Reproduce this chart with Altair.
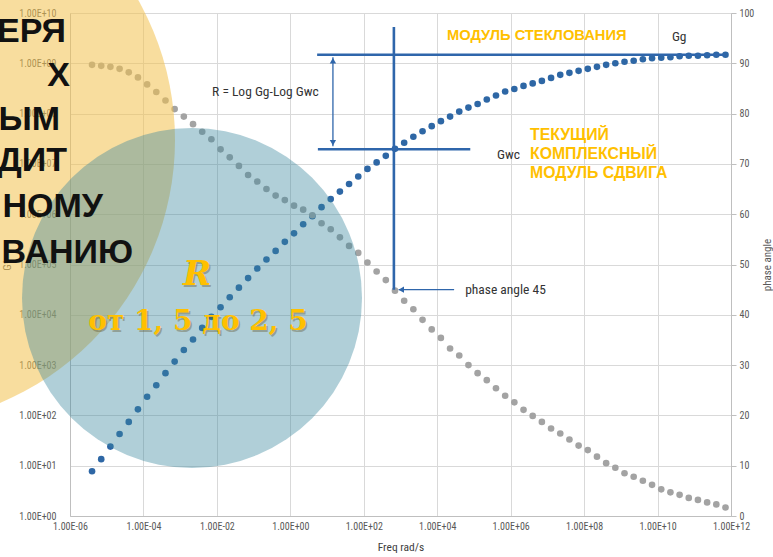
import altair as alt
import pandas as pd

# ---------------- data ----------------
freq_exp = [-5.40, -5.15, -4.90, -4.65, -4.40, -4.15, -3.90, -3.65, -3.40, -3.15,
            -2.90, -2.65, -2.40, -2.15, -1.90, -1.65, -1.40, -1.15, -0.90, -0.65,
            -0.40, -0.15, 0.10, 0.35, 0.60, 0.85, 1.10, 1.35, 1.60, 1.85,
            2.10, 2.35, 2.60, 2.85, 3.10, 3.35, 3.60, 3.85, 4.10, 4.35,
            4.60, 4.85, 5.10, 5.35, 5.60, 5.85, 6.10, 6.35, 6.60, 6.85,
            7.10, 7.35, 7.60, 7.85, 8.10, 8.35, 8.60, 8.85, 9.10, 9.35,
            9.60, 9.85, 10.10, 10.35, 10.60, 10.85, 11.10, 11.35, 11.60, 11.85]

phase_deg = [89.7, 89.5, 89.3, 88.9, 88.2, 87.2, 85.8, 84.3, 82.6, 80.9,
             79.4, 77.9, 76.4, 74.9, 72.9, 71.3, 69.6, 67.8, 66.5, 65.0,
             63.7, 62.8, 61.7, 60.9, 59.8, 58.2, 57.0, 55.4, 53.7, 52.3,
             50.4, 48.6, 46.9, 44.8, 42.8, 41.1, 39.0, 37.1, 35.4, 33.3,
             31.9, 30.0, 28.4, 27.0, 25.4, 23.9, 22.6, 21.1, 19.9, 18.7,
             17.4, 16.4, 15.2, 14.0, 13.1, 11.8, 10.5, 9.6, 8.5, 7.8,
             7.0, 6.2, 5.3, 4.7, 4.2, 3.6, 3.2, 2.7, 2.3, 1.7]

log_modulus = [0.89, 1.13, 1.38, 1.63, 1.87, 2.12, 2.37, 2.60, 2.84, 3.07,
               3.30, 3.51, 3.74, 3.96, 4.15, 4.35, 4.54, 4.73, 4.92, 5.10,
               5.27, 5.45, 5.62, 5.80, 5.96, 6.14, 6.30, 6.45, 6.60, 6.75,
               6.90, 7.03, 7.16, 7.30, 7.42, 7.54, 7.65, 7.75, 7.85, 7.94,
               8.04, 8.12, 8.19, 8.28, 8.36, 8.44, 8.49, 8.55, 8.60, 8.65,
               8.71, 8.77, 8.81, 8.85, 8.89, 8.93, 8.97, 9.00, 9.03, 9.05,
               9.08, 9.10, 9.11, 9.12, 9.14, 9.15, 9.15, 9.16, 9.17, 9.17]

x_tick_values = [1e-6, 1e-4, 1e-2, 1e0, 1e2, 1e4, 1e6, 1e8, 1e10, 1e12]
g_tick_values = [1e0, 1e1, 1e2, 1e3, 1e4, 1e5, 1e6, 1e7, 1e8, 1e9, 1e10]
phase_tick_values = [0, 10, 20, 30, 40, 50, 60, 70, 80, 90, 100]

# annotation levels (log10 units / degrees)
gg_log = 9.17
gwc_log = 7.29
cross_freq_log = 2.82
phase_mark = 45

df = pd.DataFrame({
    "freq": [10 ** e for e in freq_exp],
    "G": [10 ** v for v in log_modulus],
    "phase": phase_deg,
})

# ---------------- styling ----------------
BLUE = "#2e67a5"
LINE = "#2f66ab"
GREY = "#a3a3a3"
AXC = "#595959"
LAB_FONT = "Liberation Sans Narrow, Roboto Condensed, Roboto, sans-serif"
YEL = "#ffc000"

sci = ("'1.00E' + (round(log(datum.value)/LN10) < 0 ? '-' : '+') + "
       "(abs(round(log(datum.value)/LN10)) < 10 ? '0' : '') + abs(round(log(datum.value)/LN10))")

x_scale = alt.Scale(type="log", domain=[1e-6, 1e12], nice=False)
g_scale = alt.Scale(type="log", domain=[1, 1e10], nice=False)
p_scale = alt.Scale(type="linear", domain=[0, 100], nice=False, zero=False)

x_axis = alt.Axis(
    values=x_tick_values, labelExpr=sci, title="Freq rad/s", grid=True,
    gridColor="#d9d9d9", ticks=False, domainColor="#bfbfbf", labelColor=AXC,
    labelFont=LAB_FONT, labelFontSize=10, labelPadding=5, titleFont=LAB_FONT,
    titleFontSize=11.5, titleFontWeight="normal", titleColor="#404040",
    titlePadding=10, labelFlush=False)


def xq(field="freq"):
    return alt.X(f"{field}:Q", scale=x_scale, axis=x_axis)


def gq(field="G"):
    return alt.Y(f"{field}:Q", scale=g_scale, axis=None)


def pq(field="phase"):
    return alt.Y(f"{field}:Q", scale=p_scale, axis=None)


# ---------- modulus (left axis) ----------
blue = alt.Chart(df).mark_circle(size=44, color=BLUE, opacity=1).encode(
    x=xq(),
    y=alt.Y("G:Q", scale=g_scale, axis=alt.Axis(
        orient="left", values=g_tick_values, labelExpr=sci, title="G*", grid=True,
        gridColor="#d9d9d9", ticks=False, domainColor="#bfbfbf", labelColor=AXC,
        labelFont=LAB_FONT, labelFontSize=10, labelPadding=14, titleFont=LAB_FONT,
        titleFontSize=11, titleFontWeight="normal", titleColor=AXC, titlePadding=6)),
)

# ---------- phase angle (right axis) ----------
grey = alt.Chart(df).mark_circle(size=44, color=GREY, opacity=1).encode(
    x=xq(),
    y=alt.Y("phase:Q", scale=p_scale, axis=alt.Axis(
        orient="right", values=phase_tick_values, title="phase angle", grid=False,
        ticks=True, tickSize=5, tickColor="#bfbfbf", domainColor="#bfbfbf",
        labelColor=AXC, labelFont=LAB_FONT, labelFontSize=10, labelPadding=3,
        titleFont=LAB_FONT, titleFontSize=11, titleFontWeight="normal",
        titleColor=AXC, titleAngle=270, titlePadding=19)),
)

# ---------- annotation lines ----------
gg_rule_df = pd.DataFrame({"freq": [10 ** 0.73], "freq2": [10 ** 11.84], "G": [10 ** gg_log]})
gwc_rule_df = pd.DataFrame({"freq": [10 ** 0.75], "freq2": [10 ** 4.90], "G": [10 ** gwc_log]})
r_arrow_df = pd.DataFrame({"freq": [10 ** 1.16], "G": [10 ** 9.12], "G2": [10 ** 7.35]})
r_up_df = pd.DataFrame({"freq": [10 ** 1.16], "G": [10 ** 9.05]})
r_dn_df = pd.DataFrame({"freq": [10 ** 1.16], "G": [10 ** 7.42]})

gg_rule = alt.Chart(gg_rule_df).mark_rule(color=LINE, strokeWidth=2.6).encode(
    x=xq(), x2="freq2:Q", y=gq())
gwc_rule = alt.Chart(gwc_rule_df).mark_rule(color=LINE, strokeWidth=2.6).encode(
    x=xq(), x2="freq2:Q", y=gq())
r_arrow = alt.Chart(r_arrow_df).mark_rule(color=LINE, strokeWidth=1.3).encode(
    x=xq(), y=gq(), y2="G2:Q")
r_up = alt.Chart(r_up_df).mark_point(shape="triangle-up", filled=True, size=40,
                                     color=LINE, opacity=1).encode(x=xq(), y=gq())
r_dn = alt.Chart(r_dn_df).mark_point(shape="triangle-down", filled=True, size=40,
                                     color=LINE, opacity=1).encode(x=xq(), y=gq())

label_df = pd.DataFrame({
    "freq": [10 ** -2.13, 10 ** 5.63, 10 ** 10.39],
    "G": [10 ** 8.43, 10 ** 7.18, 10 ** 9.52],
    "txt": ["R = Log Gg-Log Gwc", "Gwc", "Gg"],
})
labels = alt.Chart(label_df).mark_text(
    align="left", baseline="middle", font=LAB_FONT, fontSize=13.5, color="#333333"
).encode(x=xq(), y=gq(), text="txt:N")

v_rule_df = pd.DataFrame({"freq": [10 ** cross_freq_log], "phase": [phase_mark], "phase2": [97.2]})
p_arrow_df = pd.DataFrame({"freq": [10 ** 2.95], "freq2": [10 ** 4.46], "phase": [phase_mark]})
p_head_df = pd.DataFrame({"freq": [10 ** 3.02], "phase": [phase_mark]})
p_text_df = pd.DataFrame({"freq": [10 ** 4.76], "phase": [phase_mark], "txt": ["phase angle 45"]})

v_rule = alt.Chart(v_rule_df).mark_rule(color=LINE, strokeWidth=2.6).encode(
    x=xq(), y=pq(), y2="phase2:Q")
p_arrow = alt.Chart(p_arrow_df).mark_rule(color=LINE, strokeWidth=1.3).encode(
    x=xq(), x2="freq2:Q", y=pq())
p_head = alt.Chart(p_head_df).mark_point(shape="triangle-left", filled=True, size=40,
                                         color=LINE, opacity=1).encode(x=xq(), y=pq())
p_text = alt.Chart(p_text_df).mark_text(
    align="left", baseline="middle", font=LAB_FONT, fontSize=13.5, color="#333333"
).encode(x=xq(), y=pq(), text="txt:N")

# ---------- slide overlay (circles and captions), in pixel space ----------
one = pd.DataFrame({"k": [0]})
PADL, PADT = 70, 13

yellow_circle = alt.Chart(one).mark_circle(color="#f2c14e", opacity=0.55).encode(
    x=alt.value(-110 - PADL), y=alt.value(140 - PADT), size=alt.value(570 ** 2))
blue_circle = alt.Chart(one).mark_circle(color="#3a879d", opacity=0.4).encode(
    x=alt.value(192 - PADL), y=alt.value(298 - PADT), size=alt.value(340 ** 2))

black_lines = ["ЕРЯ", "Х", "ЫМ", "ДИТ", "НОМУ", "ВАНИЮ"]
black_right = [66, 70, 60, 67, 103, 133]
black_base = [42, 86, 130, 171, 217, 263]
black_text = [
    alt.Chart(one).mark_text(align="right", baseline="alphabetic", font="Liberation Sans",
                             fontWeight="bold", fontSize=34, color="#111111", text=t).encode(
        x=alt.value(xr - PADL), y=alt.value(yb - PADT))
    for t, xr, yb in zip(black_lines, black_right, black_base)
]

cap_lines = ["МОДУЛЬ СТЕКЛОВАНИЯ", "ТЕКУЩИЙ", "КОМПЛЕКСНЫЙ", "МОДУЛЬ СДВИГА"]
cap_x = [447, 530, 530, 530]
cap_y = [36, 135, 154, 173]
cap_size = [14.7, 15.8, 15.8, 15.8]
caps = [
    alt.Chart(one).mark_text(align="left", baseline="middle", font="Liberation Sans",
                             fontWeight="bold", fontSize=fs, color=YEL, text=t).encode(
        x=alt.value(xx - PADL), y=alt.value(yy - PADT))
    for t, xx, yy, fs in zip(cap_lines, cap_x, cap_y, cap_size)
]

serif_items = [("R", 197, 275, 34, "italic"), ("от 1, 5 до 2, 5", 198, 322, 28, "normal")]
serif_marks = []
for t, xx, yy, fs, st in serif_items:
    serif_marks.append(
        alt.Chart(one).mark_text(align="center", baseline="middle", font="DejaVu Serif",
                                 fontWeight="bold", fontStyle=st, fontSize=fs,
                                 color="#5a4a20", opacity=0.35, text=t).encode(
            x=alt.value(xx + 1.5 - PADL), y=alt.value(yy + 1.5 - PADT)))
    serif_marks.append(
        alt.Chart(one).mark_text(align="center", baseline="middle", font="DejaVu Serif",
                                 fontWeight="bold", fontStyle=st, fontSize=fs,
                                 color=YEL, text=t).encode(
            x=alt.value(xx - PADL), y=alt.value(yy - PADT)))

chart = alt.layer(
    blue, grey, gg_rule, gwc_rule, r_arrow, r_up, r_dn, labels,
    v_rule, p_arrow, p_head, p_text,
    yellow_circle, blue_circle, *black_text, *caps, *serif_marks
).resolve_scale(y="independent").properties(
    width=661, height=503,
    padding={"left": PADL, "top": PADT, "right": 42, "bottom": 41},
    autosize=alt.AutoSizeParams(type="none"),
    background="white",
).configure_view(strokeWidth=0)

chart.save("out.html", embed_options={"renderer": "svg", "actions": False})
